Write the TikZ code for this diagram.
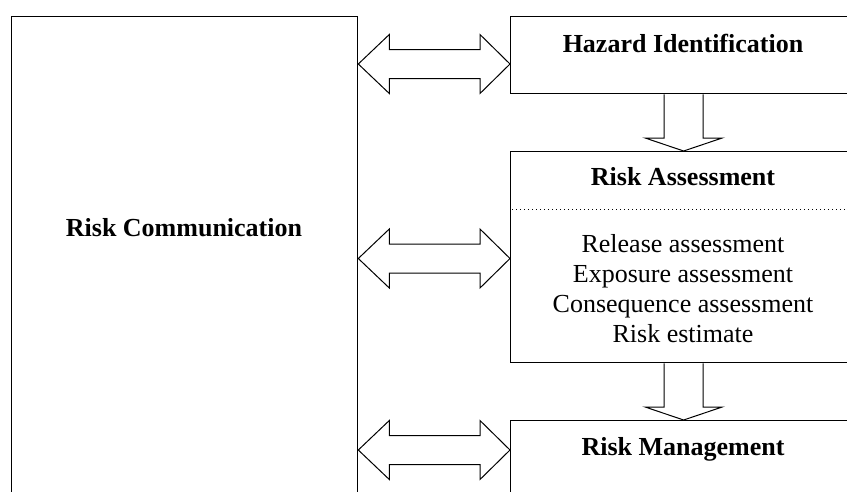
\documentclass[tikz,border=0pt]{standalone}
\usepackage{fontspec}
\setmainfont{Liberation Serif}
\usetikzlibrary{calc}
\tikzset{
  box/.style={draw=black, line width=1.3pt, fill=white, inner sep=0pt, anchor=north west},
  blk/.style={draw=black, line width=1pt, fill=white, line join=miter},
  title/.style={font=\fontsize{26}{30}\selectfont\bfseries, anchor=base, inner sep=0pt},
  body/.style={font=\fontsize{26}{30}\selectfont, anchor=base, inner sep=0pt},
  sep/.style={draw=black, line width=0.9pt, dash pattern=on 1.2pt off 2.8pt}
}
\newcommand\hdbl[2]{%
  \draw[blk] (#1) -- ($(#1)+(31,-29.5)$) -- ($(#1)+(31,-14.5)$) -- ($(#2)+(-30,-14.5)$)
    -- ($(#2)+(-30,-29.5)$) -- (#2) -- ($(#2)+(-30,29.5)$) -- ($(#2)+(-30,14.5)$)
    -- ($(#1)+(31,14.5)$) -- ($(#1)+(31,29.5)$) -- cycle;}
\newcommand\vdown[2]{%
  \draw[blk] ($(#1)+(-19.5,0)$) -- ($(#2)+(-19.5,-13)$) -- ($(#2)+(-38.5,-13)$) -- (#2)
    -- ($(#2)+(38.5,-13)$) -- ($(#2)+(19.5,-13)$) -- ($(#1)+(19.5,0)$);}
\begin{document}
\begin{tikzpicture}[x=1pt,y=-1pt]
\useasboundingbox (0,0) rectangle (847,491);
\clip (0,0) rectangle (847,491);
\fill[white] (0,0) rectangle (847,491);
% boxes
\node[box, minimum width=346, minimum height=520] (rc) at (11,16) {};
\node[box, minimum width=346, minimum height=77] (hz) at (510,16) {};
\node[box, minimum width=346, minimum height=211] (ra) at (510,151) {};
\node[box, minimum width=346, minimum height=120] (rm) at (510,420) {};
% texts
\node[title] (trc) at (184,236) {Risk Communication};
\node[title] (thz) at (683,52) {Hazard Identification};
\node[title] (tra) at (683,185) {Risk Assessment};
\node[body] (l1) at (683,252) {Release assessment};
\node[body] (l2) at (683,282) {Exposure assessment};
\node[body] (l3) at (683,312) {Consequence assessment};
\node[body] (l4) at (683,342) {Risk estimate};
\node[title] (trm) at (683,455) {Risk Management};
% dotted separator
\coordinate (dl) at (0,209);
\draw[sep] ([xshift=2pt]ra.west |- dl) -- (ra.east |- dl);
% double arrows
\coordinate (y1) at (0,64);
\coordinate (y2) at (0,258.5);
\coordinate (y3) at (0,450);
\coordinate (a1) at (rc.east |- y1); \coordinate (b1) at (hz.west |- y1);
\coordinate (a2) at (rc.east |- y2); \coordinate (b2) at (ra.west |- y2);
\coordinate (a3) at (rc.east |- y3); \coordinate (b3) at (rm.west |- y3);
\hdbl{a1}{b1}
\hdbl{a2}{b2}
\hdbl{a3}{b3}
% down arrows
\vdown{hz.south}{ra.north}
\vdown{ra.south}{rm.north}
\end{tikzpicture}
\end{document}
